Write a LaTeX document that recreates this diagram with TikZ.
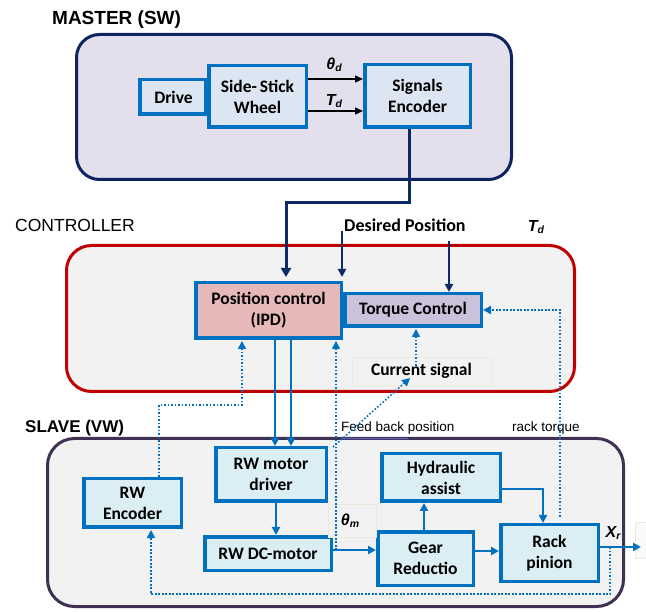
\documentclass[tikz,border=0pt]{standalone}
\usepackage{fontspec}
\setmainfont{Carlito}
\newfontfamily\arial{Liberation Sans}
\usetikzlibrary{arrows.meta,decorations.pathmorphing}

\definecolor{boxblue}{HTML}{0070C0}
\definecolor{navy}{HTML}{0E2A66}
\definecolor{masterfill}{HTML}{E4DFEC}
\definecolor{masterline}{HTML}{0D2460}
\definecolor{ctrlline}{HTML}{C00000}
\definecolor{panelfill}{HTML}{F2F2F2}
\definecolor{slaveline}{HTML}{3F3151}
\definecolor{mfill}{HTML}{DCE6F2}
\definecolor{sfill}{HTML}{DAEEF3}
\definecolor{posfill}{HTML}{E6B9B8}
\definecolor{torqfill}{HTML}{CCC1DA}
\definecolor{faint}{HTML}{ECEADC}
\definecolor{squiggle}{HTML}{6B6BE0}

\newcommand{\symb}[2]{{\arial\bfseries\itshape\fontsize{16}{16}\selectfont #1\raisebox{-2.5pt}{\fontsize{10.5}{10.5}\selectfont #2}}}

\tikzset{
  region/.style={line width=3pt, fill=panelfill, inner sep=0pt},
  blk/.style={draw=boxblue, line width=3.5pt, align=center, inner sep=0pt,
    font=\fontsize{17.5}{21}\selectfont\bfseries},
  faintbox/.style={draw=faint, line width=0.6pt, fill=panelfill, inner sep=0pt,
    font=\fontsize{17.5}{21}\selectfont\bfseries},
  tip/.style={-{Triangle[length=8pt,width=8pt]}},
  thinarrow/.style={black, line width=1.4pt, -{Triangle[length=8pt,width=7pt]}},
  sig/.style={boxblue, line width=2pt, tip},
  fb/.style={boxblue, line width=1.6pt, dash pattern=on 1.6pt off 1.9pt, tip},
  nav/.style={navy, line width=2pt, tip},
  navmain/.style={navy, line width=3pt, -{Triangle[length=9pt,width=10pt]}},
  title/.style={anchor=west, inner sep=0pt, font=\arial},
  caption/.style={anchor=west, inner sep=0pt, font=\arial\fontsize{13.5}{14}\selectfont}
}

\begin{document}
\begin{tikzpicture}[x=1pt, y=-1pt]
\useasboundingbox (0,0) rectangle (646,612);

% ---------- panels ----------
\node[region, draw=masterline, fill=masterfill, rounded corners=23pt,
  minimum width=435pt, minimum height=145pt] (master) at (294,107) {};
\node[region, draw=ctrlline, rounded corners=25pt,
  minimum width=508pt, minimum height=146pt] (ctrl) at (320.5,318.5) {};
\node[region, draw=slaveline, rounded corners=27pt,
  minimum width=576pt, minimum height=168pt] (slave) at (335.5,522.5) {};

\node[title, font=\arial\bfseries\fontsize{19}{20}\selectfont] (tmaster) at (52,20) {MASTER (SW)};
\node[title, font=\arial\fontsize{17.5}{18}\selectfont] (tctrl) at (15,225) {CONTROLLER};
\node[title, font=\arial\bfseries\fontsize{17}{18}\selectfont] (tslave) at (25,428) {SLAVE (VW)};

% ---------- master blocks ----------
\node[blk, fill=mfill, minimum width=65.5pt, minimum height=34.5pt] (drive) at (172.5,97) {\hspace*{2pt}Drive};
\node[blk, fill=mfill, minimum width=97.5pt, minimum height=61.5pt] (ssw) at (257.5,96.5) {Side-\,Stick\\Wheel};
\node[blk, fill=mfill, minimum width=105.5pt, minimum height=62.5pt] (enc) at (417.5,96) {Signals\\Encoder};

\coordinate (yth) at (0,79);
\coordinate (ytd) at (0,111);
\draw[thinarrow] (ssw.east |- yth) -- (enc.west |- yth);
\draw[thinarrow] (ssw.east |- ytd) -- (enc.west |- ytd);
\node (lth) at (334,65) {\symb{θ}{d}};
\node (ltd) at (334,101) {\symb{T}{d}};

% ---------- controller blocks ----------
\node[blk, fill=posfill, minimum width=145.5pt, minimum height=55.5pt] (pos) at (268.5,310.5) {Position control\\(IPD)};
\node[blk, fill=torqfill, minimum width=136.5pt, minimum height=32.5pt] (torq) at (413,310) {Torque Control};
\node[faintbox, minimum width=139pt, minimum height=28pt] (cur) at (421.5,371) {\raisebox{-3pt}{Current signal}};

\node[anchor=west, inner sep=0pt, font=\fontsize{18}{18}\selectfont\bfseries] (desired) at (344,225) {Desired Position};
\node (ltdtop) at (536,227) {\symb{T}{d}};

% encoder output into the position controller
\coordinate (mx) at (409,0);
\coordinate (jn) at (286,203);
\draw[navmain, shorten >=4pt] (mx |- enc.south) |- (jn) -- (jn |- pos.north);

% desired position and desired torque inputs
\coordinate (dp) at (342,231);
\draw[nav, shorten >=4pt] (dp) -- (dp |- pos.north);
\coordinate (tq) at (449,241);
\draw[nav] (tq) -- (tq |- torq.north);

% ---------- slave blocks ----------
\node[blk, fill=sfill, minimum width=97.5pt, minimum height=48.5pt] (rwe) at (132.5,503) {RW\\Encoder};
\node[blk, fill=sfill, minimum width=110.5pt, minimum height=53.5pt] (drv) at (271,474.5) {RW motor\\driver};
\node[blk, fill=sfill, minimum width=126.5pt, minimum height=33.5pt] (dcm) at (268,553.5) {RW DC-motor};
\node[blk, fill=sfill, minimum width=118.5pt, minimum height=47.5pt] (hyd) at (441,477.5) {Hydraulic\\assist};
\node[blk, fill=sfill, minimum width=95.5pt, minimum height=53.5pt] (gear) at (425.5,558.5) {Gear\\Reductio};
\node[blk, fill=sfill, minimum width=97.5pt, minimum height=56.5pt] (rack) at (549.5,553) {Rack\\pinion};

\node[faintbox, minimum width=48pt, minimum height=33pt] (thm) at (352,520.5) {\hspace*{-4pt}\symb{θ}{m}};
\node[draw=faint, line width=0.6pt, fill=white!60!panelfill, minimum width=14pt, minimum height=36pt, inner sep=0pt] (spare) at (642,540) {};

\node[caption] (tfb) at (341,428) {Feed back position};
\node[caption] (trt) at (512,428) {rack torque};
\draw[squiggle, line width=0.6pt, decorate,
  decoration={snake, segment length=3pt, amplitude=0.7pt}] (tfb.south west) ++(1,4) -- ++(66,0);

% ---------- forward signal path ----------
\coordinate (dl) at (275,0);
\coordinate (dr) at (291,0);
\draw[sig] (dl |- pos.south) -- (dl |- drv.north);
\draw[sig] (dr |- pos.south) -- (dr |- drv.north);
\coordinate (dd) at (276,0);
\draw[sig] (dd |- drv.south) -- (dd |- dcm.north);
\coordinate (ym) at (0,550);
\draw[sig] (dcm.east |- ym) -- (gear.west |- ym);
\coordinate (gx) at (424,0);
\draw[sig] (gx |- gear.north) -- (gx |- hyd.south);
\coordinate (hy) at (0,489);
\coordinate (hx) at (543,0);
\draw[sig] (hyd.east |- hy) -| (hx |- rack.north);
\coordinate (yg) at (0,551);
\draw[sig] (gear.east |- yg) -- (rack.west |- yg);
\coordinate (outend) at (641,547);
\draw[sig] (rack.east |- outend) -- (outend);
\node (lxr) at (613,533) {\symb{X}{r}};

% ---------- feedback paths ----------
\coordinate (rt) at (560,517);
\draw[fb] (rt) |- (torq.east);

\coordinate (cs) at (416,366);
\draw[fb, shorten >=1pt] (cs) -- (cs |- torq.south);

\coordinate (dg) at (333,447);
\coordinate (dgend) at (410,378);
\draw[fb] (dg) -- (dgend);

\coordinate (fbv) at (336,550);
\draw[fb, shorten >=1pt] (fbv) -- (fbv |- pos.south);

\coordinate (ex) at (159,0);
\coordinate (eup) at (242,405);
\draw[fb, shorten >=1pt] (ex |- rwe.north) |- (eup) -- (eup |- pos.south);

\coordinate (ob) at (610,594);
\coordinate (eb) at (151,594);
\draw[fb, shorten >=1pt] (ob |- outend) -- (ob) -- (eb) -- (eb |- rwe.south);
\end{tikzpicture}
\end{document}
